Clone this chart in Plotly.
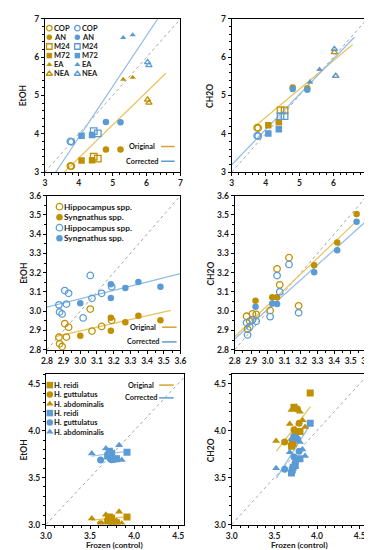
import plotly.graph_objects as go

W, H = 372, 550
GOLD = "#C09000"
BLUE = "#5B9BD5"
GOLD_T = "#E8C25A"
BLUE_T = "#92BDE6"
FONT = "Lato"
TXT = "#1a1a1a"

# ---------------- Panel A (top row): storage treatments ----------------
treatments = ["COP", "AN", "M24", "M72", "EA", "NEA"]
a_frozen = [[3.75, 3.78], [4.80, 5.23], [4.44, 4.56], [4.08, 4.39], [5.31, 5.59], [6.03, 6.07]]
a_etoh_orig = [[3.16, 3.15], [3.59, 3.59], [3.40, 3.35], [3.30, 3.31], [5.42, 5.47], [4.89, 4.81]]
a_etoh_corr = [[3.80, 3.79], [4.31, 4.30], [4.07, 4.01], [3.95, 3.97], [6.51, 6.58], [5.87, 5.79]]
a_ch2o_orig = [[4.16, 4.15], [5.21, 5.19], [4.61, 4.61], [4.22, 4.30], [5.35, 5.68], [6.13, 5.51]]
a_ch2o_corr = [[3.95, 3.94], [5.17, 5.15], [4.46, 4.46], [4.01, 4.12], [5.35, 5.68], [6.21, 5.51]]
a_symbols = ["circle-open", "circle", "square-open", "square", "triangle-up", "triangle-up-open"]

# ---------------- Panel B (middle row): genera ----------------
genera = ["Hippocampus spp.", "Syngnathus spp."]
b_symbols = ["circle-open", "circle"]
b_etoh_frozen = [[2.872, 2.876, 2.891, 2.907, 2.917, 2.930, 3.060, 3.070, 3.128, 3.188, 3.017],
                 [3.000, 3.183, 3.183, 3.270, 3.348, 3.480]]
b_etoh_orig = [[2.865, 2.831, 2.817, 2.936, 2.866, 2.917, 3.011, 2.897, 2.921, 2.953, None],
               [2.873, 2.899, 2.966, 2.943, 2.977, 2.953]]
b_etoh_corr = [[3.033, 2.996, 2.986, 3.107, 3.037, 3.093, 3.186, 3.067, 3.093, 3.127, 2.965],
               [3.042, 3.069, 3.140, 3.120, 3.152, 3.127]]
b_ch2o_frozen = [[2.872, 2.878, 2.891, 2.907, 2.930, 3.014, 3.056, 3.072, 3.128, 3.186],
                 [2.926, 3.027, 3.056, 3.280, 3.419, 3.536]]
b_ch2o_orig = [[2.974, 2.906, 2.948, 2.986, 2.984, 3.004, 3.220, 3.137, 3.278, 3.028],
               [3.055, 3.072, 3.072, 3.239, 3.357, 3.505]]
b_ch2o_corr = [[2.940, 2.877, 2.919, 2.955, 2.948, 2.972, 3.185, 3.101, 3.243, 2.992],
               [3.023, 3.040, 3.037, 3.202, 3.316, 3.464]]

# ---------------- Panel C (bottom row): species ----------------
species = ["H. reidi", "H. guttulatus", "H. abdominalis"]
c_symbols = ["square", "circle", "triangle-up"]
c_frozen = [[3.70, 3.71, 3.72, 3.73, 3.745, 3.80, 3.92],
            [3.62, 3.73, 3.745, 3.77, 3.79],
            [3.52, 3.68, 3.70, 3.80, 3.83, 3.86]]
c_etoh_orig = [[3.03, 3.06, 3.08, 3.05, 3.07, 3.02, 3.08],
               [3.007, 3.03, 3.02, 3.017, 3.01],
               [3.063, 3.105, 3.07, 3.04, 3.136, 3.01]]
c_etoh_corr = [[3.73, 3.74, 3.78, 3.75, 3.76, 3.70, 3.77],
               [3.687, 3.70, 3.69, 3.693, 3.70],
               [3.757, 3.809, 3.72, 3.69, 3.844, 3.687]]
c_ch2o_orig = [[3.835, 3.88, 3.86, 4.25, 3.95, 3.99, 4.40],
               [3.88, 4.01, 3.95, 4.23, 4.08],
               [3.89, 4.07, 4.22, 4.20, 4.11, 4.04]]
c_ch2o_corr = [[3.55, 3.58, 3.61, 3.93, 3.63, 3.70, 4.08],
               [3.59, 3.72, 3.66, 3.91, 3.78],
               [3.60, 3.77, 3.91, 3.88, 3.80, 3.73]]

# Trend lines: (slope, intercept, x_from, x_to)
trend_orig = [(0.86, -0.07, 3.5, 6.57), (0.74, 1.468, 3.76, 6.57),
              (0.196, 2.310, 2.849, 3.542), (0.815, 0.586, 2.8, 3.536),
              (0.09, 2.73, 3.516, 3.904), (1.19, -0.413, 3.524, 3.923)]
trend_corr = [(1.33, -1.415, 3.3, 6.4), (0.92, 0.43, 3.0, 6.62),
              (0.2175, 2.412, 2.8, 3.6), (0.77, 0.70, 2.8, 3.6),
              (0.13, 3.27, 3.516, 3.904), (1.44, -1.58, 3.524, 3.923)]

# Panel geometry in pixels: (x0, x1, y0, y1), axis ranges, tick steps
panels = [
    dict(px=(32, 172, 6, 162), xr=(3, 7), yr=(3, 7), dt=1, mn=0.2, fmt=""),
    dict(px=(225, 365, 6, 162), xr=(3, 7), yr=(3, 7), dt=1, mn=0.2, fmt=""),
    dict(px=(34, 172, 186, 343), xr=(2.8, 3.6), yr=(2.8, 3.6), dt=0.1, mn=0.05, fmt=".1f"),
    dict(px=(228, 365, 186, 343), xr=(2.8, 3.6), yr=(2.8, 3.6), dt=0.1, mn=0.05, fmt=".1f"),
    dict(px=(33, 176, 368, 521), xr=(3.0, 4.57), yr=(3.0, 4.6), dt=0.5, mn=0.1, fmt=".1f"),
    dict(px=(225, 366, 368, 521), xr=(3.0, 4.6), yr=(3.0, 4.6), dt=0.5, mn=0.1, fmt=".1f"),
]

fig = go.Figure()
layout = dict(width=W, height=H, margin=dict(l=0, r=0, t=0, b=0),
              paper_bgcolor="white", plot_bgcolor="rgba(0,0,0,0)", showlegend=False,
              font=dict(family=FONT, size=8.5, color=TXT))
shapes, annotations = [], []

for i, p in enumerate(panels):
    n = i + 1
    x0, x1, y0, y1 = p["px"]
    ax = dict(domain=[x0 / W, x1 / W], range=list(p["xr"]))
    ay = dict(domain=[1 - y1 / H, 1 - y0 / H], range=list(p["yr"]))
    common = dict(showline=True, linecolor="#000", linewidth=1, mirror=True,
                  ticks="outside", ticklen=3, tickcolor="#000", tickwidth=1,
                  showgrid=False, zeroline=False, dtick=p["dt"], tick0=0,
                  tickformat=p["fmt"],
                  minor=dict(ticks="outside", ticklen=2, tickcolor="#000", dtick=p["mn"], showgrid=False),
                  tickfont=dict(family=FONT, size=8.5, color=TXT, weight="bold"))
    ax.update(common)
    ay.update(common)
    ax["anchor"] = f"y{n}"
    ay["anchor"] = f"x{n}"
    layout[f"xaxis{n}"] = ax
    layout[f"yaxis{n}"] = ay
    # 1:1 line
    lo, hi = p["xr"][0], min(p["xr"][1], p["yr"][1])
    fig.add_trace(go.Scatter(x=[lo, hi], y=[lo, hi], mode="lines", xaxis=f"x{n}", yaxis=f"y{n}",
                             line=dict(color="#A6A6A6", width=1, dash="dot"), hoverinfo="skip"))
    for tr, col in ((trend_orig[i], GOLD_T), (trend_corr[i], BLUE_T)):
        s, b, xa, xb = tr
        fig.add_trace(go.Scatter(x=[xa, xb], y=[s * xa + b, s * xb + b], mode="lines",
                                 xaxis=f"x{n}", yaxis=f"y{n}", line=dict(color=col, width=1.2),
                                 hoverinfo="skip"))


def pts(n, xs, ys, symbol, color, size=6.5):
    xx = [x for x, y in zip(xs, ys) if y is not None]
    yy = [y for y in ys if y is not None]
    lw = 1.3 if "open" in symbol else 0
    fig.add_trace(go.Scatter(x=xx, y=yy, mode="markers", xaxis=f"x{n}", yaxis=f"y{n}",
                             marker=dict(symbol=symbol, size=size, color=color,
                                         line=dict(color=color, width=lw))))


for k in range(6):
    sz = 5.5 if "triangle" in a_symbols[k] else 6.5
    pts(1, a_frozen[k], a_etoh_orig[k], a_symbols[k], GOLD, sz)
    pts(2, a_frozen[k], a_ch2o_orig[k], a_symbols[k], GOLD, sz)
for k in range(6):
    sz = 5.5 if "triangle" in a_symbols[k] else 6.5
    pts(1, a_frozen[k], a_etoh_corr[k], a_symbols[k], BLUE, sz)
    pts(2, a_frozen[k], a_ch2o_corr[k], a_symbols[k], BLUE, sz)
for k in range(2):
    pts(3, b_etoh_frozen[k], b_etoh_orig[k], b_symbols[k], GOLD)
    pts(4, b_ch2o_frozen[k], b_ch2o_orig[k], b_symbols[k], GOLD)
for k in range(2):
    pts(3, b_etoh_frozen[k], b_etoh_corr[k], b_symbols[k], BLUE)
    pts(4, b_ch2o_frozen[k], b_ch2o_corr[k], b_symbols[k], BLUE)
for k in range(3):
    pts(5, c_frozen[k], c_etoh_orig[k], c_symbols[k], GOLD, 7)
    pts(6, c_frozen[k], c_ch2o_orig[k], c_symbols[k], GOLD, 7)
for k in range(3):
    pts(5, c_frozen[k], c_etoh_corr[k], c_symbols[k], BLUE, 7)
    pts(6, c_frozen[k], c_ch2o_corr[k], c_symbols[k], BLUE, 7)

# ---------------- overlay pixel axes for legends ----------------
layout["xaxis7"] = dict(domain=[0, 1], range=[0, W], visible=False, anchor="y7", fixedrange=True)
layout["yaxis7"] = dict(domain=[0, 1], range=[H, 0], visible=False, anchor="x7", fixedrange=True)


def legend_block(labels, symbols, colors, mx, y0, dy, fsize, msize):
    for j, (lab, sym, col) in enumerate(zip(labels, symbols, colors)):
        yy = y0 + j * dy
        lw = 1.3 if "open" in sym else 0
        fig.add_trace(go.Scatter(x=[mx], y=[yy], mode="markers", xaxis="x7", yaxis="y7",
                                 marker=dict(symbol=sym, size=msize, color=col,
                                             line=dict(color=col, width=lw)), hoverinfo="skip"))
        annotations.append(dict(x=mx + 3.5, y=yy, xref="x7", yref="y7", text=lab, showarrow=False,
                                xanchor="left", yanchor="middle", borderpad=0,
                                font=dict(family=FONT, size=fsize, color=TXT, weight="bold")))


legend_block(treatments, a_symbols, [GOLD] * 6, 36.5, 15.5, 9.3, 7.5, 5.5)
legend_block(treatments, a_symbols, [BLUE] * 6, 65.5, 15.5, 9.3, 7.5, 5.5)
legend_block(genera * 2, b_symbols * 2, [GOLD, GOLD, BLUE, BLUE], 47, 197.3, 10.7, 8.3, 6.5)
legend_block(species * 2, c_symbols * 2, [GOLD] * 3 + [BLUE] * 3, 37, 379, 9.5, 7.6, 6.5)


def line_key(tx, y_o, y_c, lx0, lx1):
    for yy, lab, col in ((y_o, "Original", "#D4A52A"), (y_c, "Corrected", BLUE)):
        annotations.append(dict(x=tx, y=yy, xref="x7", yref="y7", text=lab, showarrow=False,
                                xanchor="center", yanchor="middle", borderpad=0,
                                font=dict(family=FONT, size=7.3, color=TXT, weight="bold")))
        shapes.append(dict(type="line", xref="x7", yref="y7", x0=lx0, x1=lx1, y0=yy, y1=yy,
                           line=dict(color=col, width=1.5)))


line_key(132, 136, 151, 152, 166)
line_key(133, 320, 335, 153, 168)
line_key(131, 379, 392, 150, 165)

# axis titles
for (x, y, t) in [(10, 84, "EtOH"), (203, 84, "CH2O"), (10, 265, "EtOH"), (204, 265, "CH2O"),
                  (10, 445, "EtOH"), (203, 445, "CH2O")]:
    annotations.append(dict(x=x, y=y, xref="x7", yref="y7", text=t, showarrow=False, textangle=-90,
                            xanchor="center", yanchor="middle", borderpad=0,
                            font=dict(family=FONT, size=8.5, color=TXT, weight="bold")))
for (x, y) in [(104, 541.5), (295, 541.5)]:
    annotations.append(dict(x=x, y=y, xref="x7", yref="y7", text="Frozen (control)", showarrow=False,
                            xanchor="center", yanchor="middle", borderpad=0,
                            font=dict(family=FONT, size=8.2, color=TXT, weight="bold")))

layout["shapes"] = shapes
layout["annotations"] = annotations
fig.update_layout(**layout)
fig.write_html("out.html")
